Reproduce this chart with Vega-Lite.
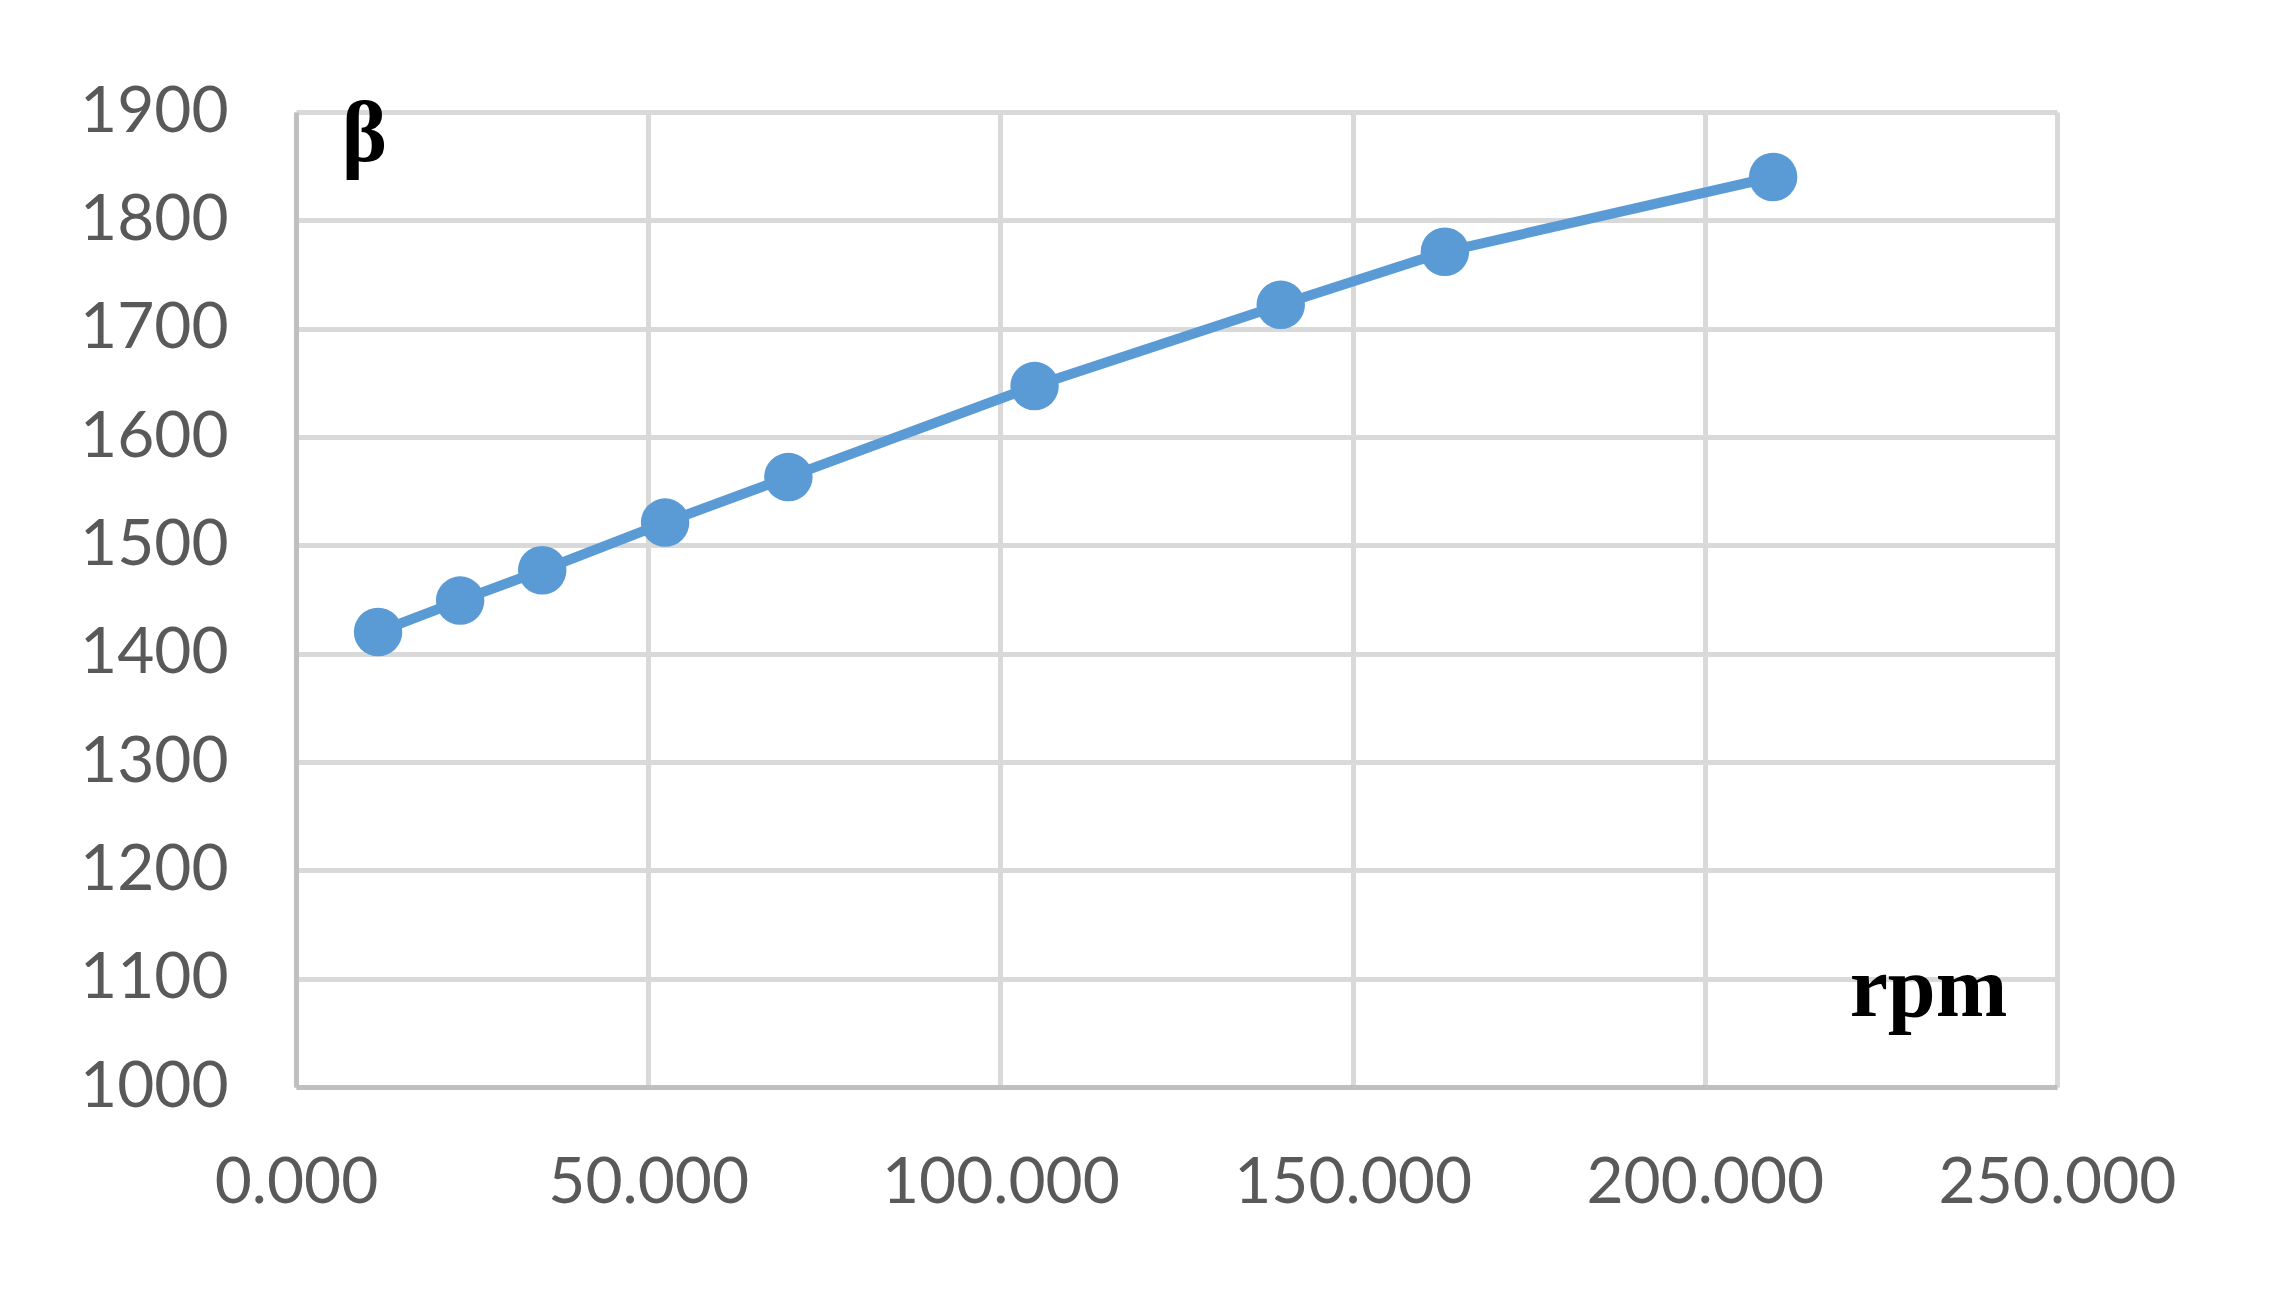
{
  "$schema": "https://vega.github.io/schema/vega-lite/v6.json",
  "width": 1761,
  "height": 975,
  "autosize": {"type": "none"},
  "padding": {"left": 296, "top": 112, "right": 231, "bottom": 206},
  "background": "white",
  "config": {
    "view": {"stroke": null},
    "axis": {
      "labelFont": "Lato",
      "labelFontSize": 64,
      "labelColor": "#595959",
      "labelLimit": 0,
      "labelOverlap": false,
      "gridColor": "#d9d9d9",
      "gridWidth": 5,
      "domainColor": "#bfbfbf",
      "domainWidth": 5,
      "ticks": false,
      "titleFont": "Liberation Serif",
      "titleFontWeight": "bold",
      "titleFontSize": 86,
      "titleColor": "black"
    }
  },
  "data": {
    "values": [
      {"rpm": 11.65, "beta": 1420},
      {"rpm": 23.3, "beta": 1449},
      {"rpm": 34.95, "beta": 1477},
      {"rpm": 52.4, "beta": 1521},
      {"rpm": 69.9, "beta": 1563},
      {"rpm": 104.85, "beta": 1647},
      {"rpm": 139.8, "beta": 1722},
      {"rpm": 163.1, "beta": 1771},
      {"rpm": 209.7, "beta": 1840}
    ]
  },
  "encoding": {
    "x": {
      "field": "rpm",
      "type": "quantitative",
      "scale": {"domain": [0, 250], "nice": false, "zero": false},
      "axis": {
        "values": [0, 50, 100, 150, 200, 250],
        "format": ".3f",
        "labelPadding": 64,
        "labelFlush": false,
        "title": "rpm",
        "titleAngle": 0,
        "titleAlign": "center",
        "titleBaseline": "alphabetic",
        "titleX": 1632,
        "titleY": -72
      }
    },
    "y": {
      "field": "beta",
      "type": "quantitative",
      "scale": {"domain": [1000, 1900], "nice": false, "zero": false},
      "axis": {
        "values": [1000, 1100, 1200, 1300, 1400, 1500, 1600, 1700, 1800, 1900],
        "format": "d",
        "labelPadding": 68,
        "labelFlush": false,
        "title": "β",
        "titleAngle": 0,
        "titleAlign": "center",
        "titleBaseline": "alphabetic",
        "titleX": 68,
        "titleY": 48
      }
    }
  },
  "layer": [
    {"mark": {"type": "line", "color": "#5b9bd5", "strokeWidth": 10}},
    {"mark": {"type": "point", "filled": true, "color": "#5b9bd5", "opacity": 1, "size": 2350}}
  ]
}
